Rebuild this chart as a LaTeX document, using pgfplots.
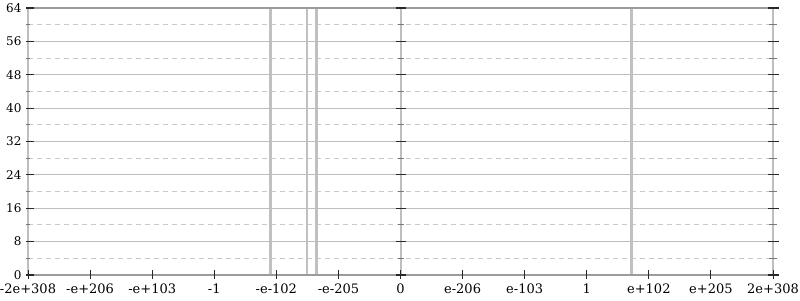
\documentclass[border=0pt]{standalone}
\usepackage{pgfplots}
\pgfplotsset{compat=1.18}
\usepackage{fontspec}
\setmainfont{DejaVu Serif}
\definecolor{gridc}{RGB}{190,190,190}
\definecolor{dashc}{RGB}{200,200,200}
\definecolor{framec}{RGB}{155,155,155}
\definecolor{sidec}{RGB}{190,190,190}
\definecolor{barc}{RGB}{192,192,192}
\definecolor{tickc}{RGB}{40,40,40}
\definecolor{minortickc}{RGB}{120,120,120}
\begin{document}
\begin{tikzpicture}[x=1bp,y=1bp]
\begin{axis}[
  at={(0,0)}, anchor=south west,
  scale only axis, width=745bp, height=267bp,
  xmin=-6, xmax=6, ymin=0, ymax=64,
  clip=false,
  axis line style={draw=none},
  xtick={-6,...,6},
  xticklabels={-2e+308,-e+206,-e+103,-1,-e-102,-e-205,0,e-206,e-103,1,e+102,e+205,2e+308},
  ytick={0,8,...,64},
  minor ytick={4,12,...,60},
  ymajorgrids, yminorgrids,
  major grid style={gridc, line width=1bp},
  minor grid style={dashc, line width=1bp, dash pattern=on 5bp off 4bp},
  major tick length=0pt, minor tick length=0pt,
  tick style={draw=none},
  tick label style={text=black},
  /pgf/number format/assume math mode=true,
  xticklabel style={font=\fontsize{13bp}{15bp}\selectfont, yshift=-5.5bp},
  yticklabel style={font=\fontsize{12bp}{14bp}\selectfont, xshift=-3bp},
]
\addplot[ycomb, barc, line width=2.7bp, mark=none] coordinates {
  (-2.089,64) (-1.506,64) (-1.353,64) (3.726,64)
};
\end{axis}
% frame lines
\draw[sidec, line width=2.5bp] (0,0) -- (0,267);
\draw[sidec, line width=2bp] (372.5,0) -- (372.5,267);
\draw[sidec, line width=2bp] (745,0) -- (745,267);
\draw[framec, line width=2bp] (0,267) -- (745,267);
\draw[framec, line width=2bp] (0,0) -- (745,0);
% y ticks
\foreach \i in {0,...,8} {
  \pgfmathsetmacro{\yy}{\i*267/8}
  \draw[tickc, line width=1.2bp] (-2,\yy) -- (6,\yy);
  \draw[tickc, line width=1.2bp] (367.5,\yy) -- (377.5,\yy);
  \draw[tickc, line width=1.2bp] (740,\yy) -- (751,\yy);
}
\foreach \i in {0,...,7} {
  \pgfmathsetmacro{\yy}{(\i+0.5)*267/8}
  \draw[minortickc, line width=1bp] (-2,\yy) -- (2,\yy);
  \draw[minortickc, line width=1bp] (369.5,\yy) -- (375.5,\yy);
  \draw[minortickc, line width=1bp] (741,\yy) -- (749,\yy);
}
% x ticks
\foreach \i in {0,...,12} {
  \pgfmathsetmacro{\xx}{\i*745/12}
  \draw[tickc, line width=0.9bp] (\xx,-4) -- (\xx,5);
}
\pgfresetboundingbox
\path[use as bounding box] (-28,-25) rectangle (772,275);
\end{tikzpicture}
\end{document}
